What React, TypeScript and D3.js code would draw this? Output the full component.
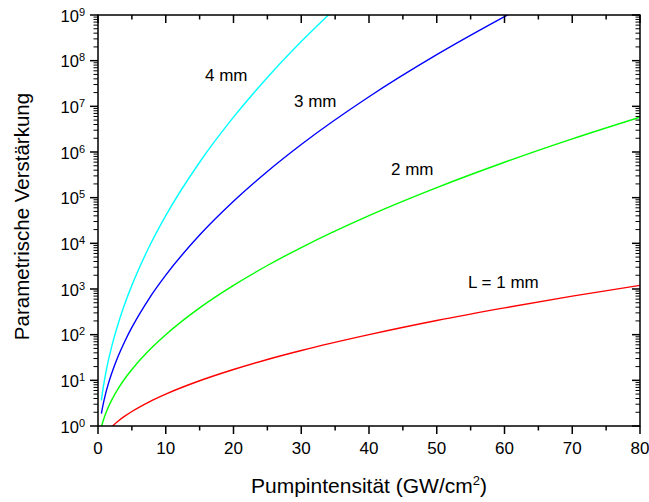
import React from "react";
import * as d3 from "d3";

const W = 649;
const H = 502;
const M = { left: 98, right: 640, top: 15, bottom: 426 };

const xTicks = [0, 10, 20, 30, 40, 50, 60, 70, 80];
const yDecades = [0, 1, 2, 3, 4, 5, 6, 7, 8, 9];

// L = 1 mm
const xs1 = [2.15, 3, 4, 5, 7.5, 10, 15, 20, 25, 30, 40, 50, 60, 70, 80];
const g1 = [1.0, 1.29, 1.66, 2.08, 3.35, 5.0, 9.8, 17.3, 28.6, 45, 100, 204, 386, 697, 1200];
// 2 mm
const xs2 = [0.55, 0.75, 1, 1.5, 2, 3, 4, 5, 7.5, 10, 15, 20, 25, 30, 40, 50, 60, 70, 80];
const g2 = [1.0, 1.29, 1.66, 2.55, 3.65, 6.67, 11.1, 17.3, 45, 100, 386, 1200, 3270, 8090, 4.04e4, 1.66e5, 5.97e5, 1.94e6, 5.79e6];
// 3 mm
const xs3 = [0.5, 0.75, 1, 1.5, 2, 3, 4, 5, 7.5, 10, 15, 20, 25, 30, 40, 50, 60, 62];
const g3 = [1.87, 2.94, 4.3, 8.14, 13.9, 34.5, 73.8, 144, 603, 2010, 1.52e4, 8.35e4, 3.75e5, 1.46e6, 1.62e7, 1.35e8, 9.2e8, 1.33e9];
// 4 mm
const xs4 = [0.5, 0.75, 1, 1.5, 2, 3, 4, 5, 7.5, 10, 15, 20, 25, 30, 35];
const g4 = [3.65, 6.67, 11.1, 26, 53.3, 178, 492, 1200, 8090, 4.04e4, 5.97e5, 5.79e6, 4.29e7, 2.62e8, 1.38e9];

const seriesNames = ["L = 1 mm", "2 mm", "3 mm", "4 mm"];
const seriesColors = ["#ff0000", "#00ff00", "#0000ff", "#00ffff"];
const labelPos = [
  [468, 288],
  [391, 175],
  [294, 107],
  [205, 81],
];

const FONT = "'Liberation Sans', Arial, Helvetica, sans-serif";

export default function App() {
  const x = d3.scaleLinear().domain([0, 80]).range([M.left, M.right]);
  const y = d3.scaleLog().domain([1, 1e9]).range([M.bottom, M.top]);

  const series = [
    xs1.map((v, i) => [v, g1[i]]),
    xs2.map((v, i) => [v, g2[i]]),
    xs3.map((v, i) => [v, g3[i]]),
    xs4.map((v, i) => [v, g4[i]]),
  ];

  const line = d3
    .line<number[]>()
    .x((d) => x(d[0]))
    .y((d) => y(d[1]))
    .curve(d3.curveMonotoneX);

  const minorX = d3.range(5, 80, 10);
  const minorY: number[] = [];
  for (let d = 0; d < 9; d++) for (let m = 2; m <= 9; m++) minorY.push(m * Math.pow(10, d));

  const sw = 1.5;
  const majL = 8;
  const minL = 4.5;

  return (
    <svg
      width={W}
      height={H}
      style={{ position: "absolute", left: 0, top: 0, background: "#fff" }}
      fontFamily={FONT}
    >
      <defs>
        <clipPath id="plotclip">
          <rect x={M.left} y={M.top} width={M.right - M.left} height={M.bottom - M.top} />
        </clipPath>
      </defs>
      <rect x={0} y={0} width={W} height={H} fill="#fff" />

      <g clipPath="url(#plotclip)">
        {series.map((s, i) => (
          <path key={i} d={line(s) || ""} fill="none" stroke={seriesColors[i]} strokeWidth={1.4} />
        ))}
      </g>

      {/* frame */}
      <rect
        x={M.left}
        y={M.top}
        width={M.right - M.left}
        height={M.bottom - M.top}
        fill="none"
        stroke="#000"
        strokeWidth={sw}
      />

      {/* x ticks bottom (outward) and top (inward) */}
      {xTicks.map((t) => (
        <g key={"xt" + t}>
          <line x1={x(t)} x2={x(t)} y1={M.bottom} y2={M.bottom + majL} stroke="#000" strokeWidth={sw} />
          <line x1={x(t)} x2={x(t)} y1={M.top} y2={M.top + majL} stroke="#000" strokeWidth={sw} />
          <text x={x(t)} y={454} fontSize={17} textAnchor="middle">
            {t}
          </text>
        </g>
      ))}
      {minorX.map((t) => (
        <g key={"xm" + t}>
          <line x1={x(t)} x2={x(t)} y1={M.bottom} y2={M.bottom + minL} stroke="#000" strokeWidth={sw} />
          <line x1={x(t)} x2={x(t)} y1={M.top} y2={M.top + minL} stroke="#000" strokeWidth={sw} />
        </g>
      ))}

      {/* y ticks left (outward) and right (inward) */}
      {yDecades.map((e) => {
        const v = Math.pow(10, e);
        return (
          <g key={"yt" + e}>
            <line x1={M.left - majL} x2={M.left} y1={y(v)} y2={y(v)} stroke="#000" strokeWidth={sw} />
            <line x1={M.right - majL} x2={M.right} y1={y(v)} y2={y(v)} stroke="#000" strokeWidth={sw} />
            <text x={85} y={y(v) + 6.5} fontSize={16.5} textAnchor="end">
              10
              <tspan fontSize={11} dy={-6}>
                {e}
              </tspan>
            </text>
          </g>
        );
      })}
      {minorY.map((v, i) => (
        <g key={"ym" + i}>
          <line x1={M.left - minL} x2={M.left} y1={y(v)} y2={y(v)} stroke="#000" strokeWidth={1} />
          <line x1={M.right - minL} x2={M.right} y1={y(v)} y2={y(v)} stroke="#000" strokeWidth={1} />
        </g>
      ))}

      {/* series labels */}
      {seriesNames.map((n, i) => (
        <text key={n} x={labelPos[i][0]} y={labelPos[i][1]} fontSize={17}>
          {n}
        </text>
      ))}

      {/* axis titles */}
      <text x={(M.left + M.right) / 2} y={493} fontSize={21} textAnchor="middle">
        Pumpintensität (GW/cm
        <tspan fontSize={13} dy={-8}>
          2
        </tspan>
        <tspan dy={8}>)</tspan>
      </text>
      <text
        transform={`translate(29, ${(M.top + M.bottom) / 2 - 4}) rotate(-90)`}
        fontSize={20.5}
        textAnchor="middle"
      >
        Parametrische Verstärkung
      </text>
    </svg>
  );
}
